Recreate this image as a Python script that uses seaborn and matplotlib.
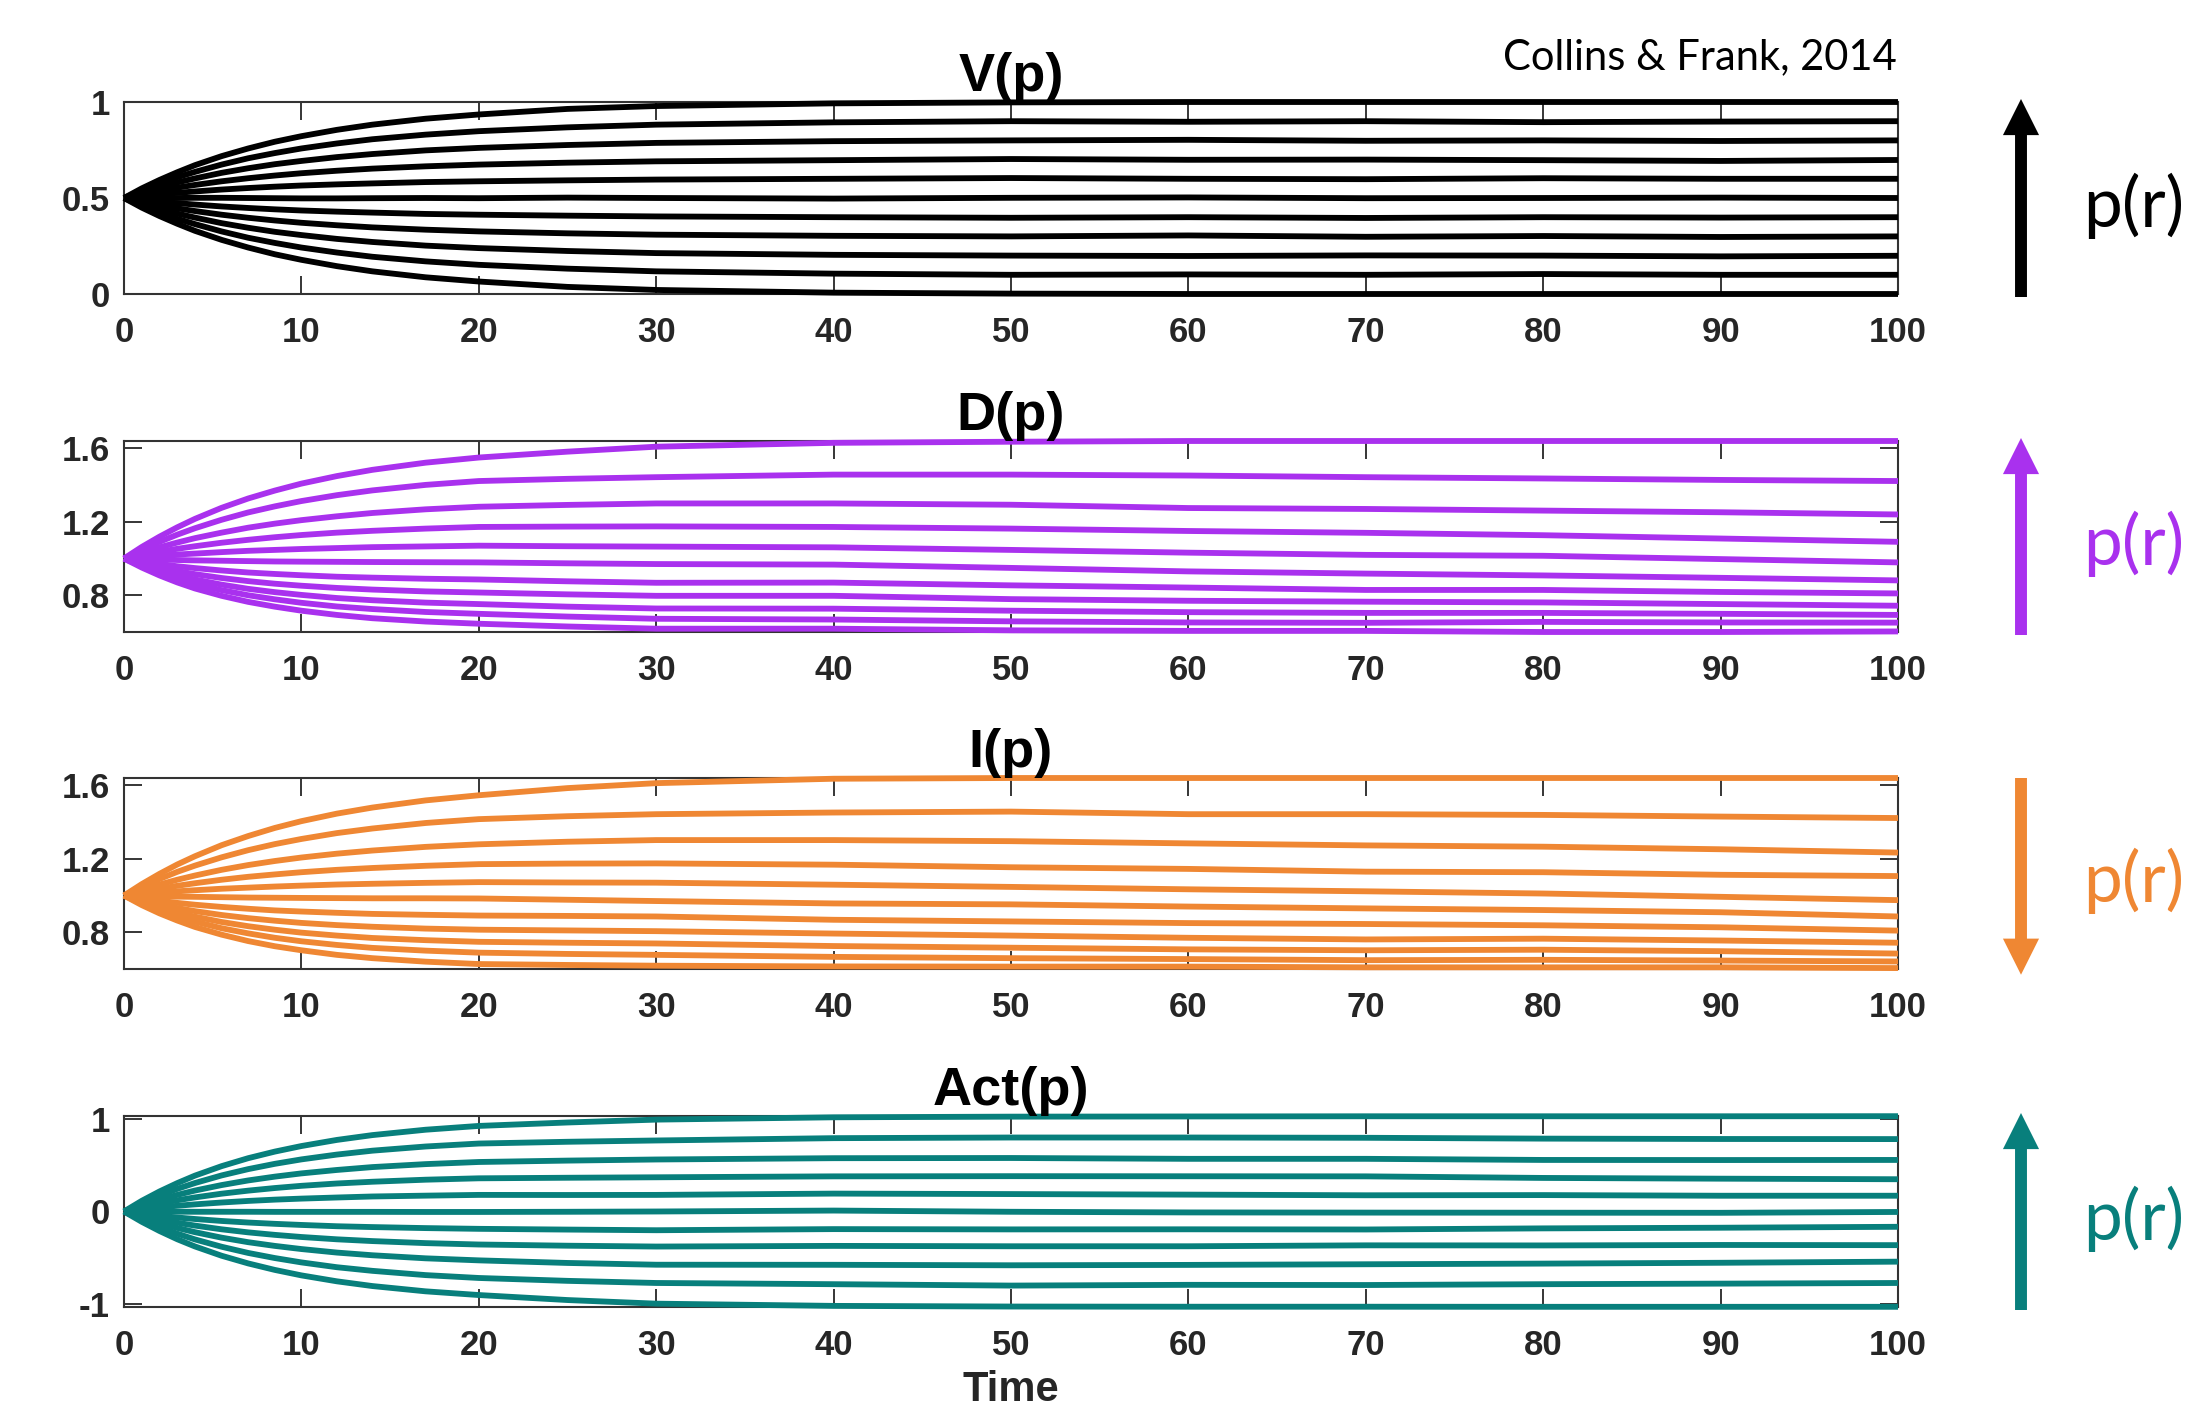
import numpy as np
import pandas as pd
import seaborn as sns
import matplotlib
matplotlib.use("Agg")
import matplotlib.pyplot as plt

# ---------------- data ----------------
time_steps = [0, 1, 2, 3, 4, 5.5, 7, 8.5, 10, 12, 14, 17, 20, 25, 30, 40, 50, 60, 70, 80, 90, 100]
p_levels = [0.0, 0.1, 0.2, 0.3, 0.4, 0.5, 0.6, 0.7, 0.8, 0.9, 1.0]
x_ticks = [0, 10, 20, 30, 40, 50, 60, 70, 80, 90, 100]

v_values = [
    [0.5, 0.45, 0.406, 0.366, 0.329, 0.282, 0.242, 0.207, 0.178, 0.145, 0.118, 0.087, 0.065, 0.037, 0.021, 0.007, 0.002, 0.0, 0.0, 0.0, 0.0, 0.0],
    [0.5, 0.46, 0.425, 0.392, 0.364, 0.326, 0.293, 0.266, 0.242, 0.216, 0.194, 0.17, 0.152, 0.132, 0.118, 0.106, 0.1, 0.102, 0.1, 0.104, 0.1, 0.1],
    [0.5, 0.47, 0.444, 0.419, 0.398, 0.369, 0.345, 0.324, 0.307, 0.287, 0.271, 0.252, 0.239, 0.224, 0.213, 0.204, 0.2, 0.198, 0.201, 0.2, 0.196, 0.199],
    [0.5, 0.48, 0.462, 0.446, 0.432, 0.413, 0.397, 0.383, 0.371, 0.358, 0.347, 0.335, 0.326, 0.316, 0.309, 0.303, 0.3, 0.305, 0.298, 0.302, 0.297, 0.3],
    [0.5, 0.49, 0.481, 0.473, 0.466, 0.456, 0.448, 0.441, 0.435, 0.429, 0.424, 0.417, 0.413, 0.408, 0.404, 0.4, 0.397, 0.4, 0.396, 0.4, 0.398, 0.4],
    [0.5, 0.5, 0.5, 0.5, 0.501, 0.501, 0.5, 0.499, 0.498, 0.498, 0.499, 0.5, 0.499, 0.502, 0.5, 0.497, 0.501, 0.503, 0.499, 0.5, 0.502, 0.5],
    [0.5, 0.51, 0.519, 0.527, 0.534, 0.544, 0.552, 0.559, 0.565, 0.571, 0.576, 0.583, 0.587, 0.592, 0.596, 0.6, 0.604, 0.6, 0.598, 0.603, 0.6, 0.6],
    [0.5, 0.52, 0.538, 0.554, 0.568, 0.587, 0.603, 0.617, 0.629, 0.642, 0.653, 0.665, 0.674, 0.684, 0.691, 0.697, 0.703, 0.699, 0.7, 0.697, 0.693, 0.698],
    [0.5, 0.53, 0.556, 0.581, 0.602, 0.631, 0.655, 0.676, 0.693, 0.713, 0.729, 0.748, 0.761, 0.776, 0.787, 0.796, 0.8, 0.803, 0.798, 0.8, 0.797, 0.8],
    [0.5, 0.54, 0.575, 0.608, 0.636, 0.674, 0.707, 0.734, 0.758, 0.784, 0.806, 0.83, 0.848, 0.868, 0.882, 0.894, 0.9, 0.897, 0.9, 0.895, 0.898, 0.9],
    [0.5, 0.55, 0.594, 0.634, 0.671, 0.718, 0.758, 0.793, 0.822, 0.855, 0.882, 0.913, 0.935, 0.964, 0.979, 0.993, 0.998, 1.0, 1.0, 1.0, 1.0, 1.0],
]

d_values = [
    [1.0, 0.951, 0.908, 0.87, 0.837, 0.797, 0.764, 0.738, 0.716, 0.693, 0.675, 0.657, 0.645, 0.63, 0.618, 0.618, 0.609, 0.606, 0.606, 0.60, 0.60, 0.603],
    [1.0, 0.958, 0.922, 0.89, 0.862, 0.828, 0.8, 0.778, 0.759, 0.739, 0.725, 0.709, 0.699, 0.684, 0.672, 0.668, 0.658, 0.652, 0.65, 0.655, 0.652, 0.651],
    [1.0, 0.966, 0.936, 0.909, 0.886, 0.858, 0.835, 0.817, 0.802, 0.785, 0.773, 0.76, 0.752, 0.738, 0.728, 0.727, 0.716, 0.708, 0.704, 0.704, 0.699, 0.693],
    [1.0, 0.974, 0.952, 0.932, 0.915, 0.894, 0.877, 0.863, 0.852, 0.84, 0.831, 0.821, 0.815, 0.805, 0.797, 0.797, 0.779, 0.77, 0.765, 0.761, 0.752, 0.743],
    [1.0, 0.984, 0.971, 0.958, 0.948, 0.935, 0.924, 0.916, 0.909, 0.901, 0.896, 0.89, 0.886, 0.876, 0.868, 0.869, 0.854, 0.842, 0.829, 0.829, 0.818, 0.81],
    [1.0, 0.997, 0.995, 0.992, 0.99, 0.988, 0.986, 0.984, 0.983, 0.982, 0.981, 0.98, 0.979, 0.974, 0.97, 0.967, 0.949, 0.93, 0.918, 0.908, 0.895, 0.881],
    [1.0, 1.008, 1.015, 1.022, 1.027, 1.035, 1.042, 1.047, 1.052, 1.057, 1.062, 1.066, 1.07, 1.067, 1.065, 1.061, 1.047, 1.032, 1.02, 1.015, 0.997, 0.979],
    [1.0, 1.02, 1.037, 1.053, 1.067, 1.086, 1.102, 1.116, 1.128, 1.141, 1.151, 1.163, 1.172, 1.174, 1.175, 1.172, 1.163, 1.15, 1.14, 1.127, 1.109, 1.091],
    [1.0, 1.032, 1.061, 1.087, 1.111, 1.141, 1.168, 1.19, 1.209, 1.23, 1.248, 1.268, 1.282, 1.292, 1.30, 1.30, 1.293, 1.275, 1.27, 1.261, 1.252, 1.24],
    [1.0, 1.048, 1.091, 1.13, 1.165, 1.211, 1.251, 1.284, 1.313, 1.345, 1.371, 1.401, 1.422, 1.434, 1.443, 1.457, 1.457, 1.452, 1.443, 1.436, 1.428, 1.422],
    [1.0, 1.063, 1.119, 1.17, 1.216, 1.276, 1.327, 1.37, 1.408, 1.449, 1.483, 1.522, 1.55, 1.582, 1.609, 1.63, 1.636, 1.64, 1.64, 1.64, 1.64, 1.64],
]

i_values = [
    [1.0, 1.062, 1.118, 1.169, 1.214, 1.274, 1.324, 1.368, 1.405, 1.446, 1.479, 1.518, 1.546, 1.585, 1.612, 1.636, 1.64, 1.64, 1.64, 1.64, 1.64, 1.64],
    [1.0, 1.047, 1.09, 1.129, 1.163, 1.208, 1.247, 1.28, 1.308, 1.34, 1.365, 1.395, 1.416, 1.432, 1.443, 1.452, 1.457, 1.443, 1.443, 1.439, 1.43, 1.422],
    [1.0, 1.032, 1.06, 1.086, 1.109, 1.14, 1.166, 1.188, 1.207, 1.228, 1.245, 1.265, 1.279, 1.293, 1.302, 1.302, 1.296, 1.284, 1.273, 1.266, 1.252, 1.234],
    [1.0, 1.019, 1.037, 1.053, 1.067, 1.086, 1.102, 1.115, 1.127, 1.14, 1.15, 1.162, 1.171, 1.174, 1.175, 1.168, 1.154, 1.145, 1.13, 1.127, 1.113, 1.106],
    [1.0, 1.008, 1.016, 1.023, 1.029, 1.037, 1.043, 1.049, 1.054, 1.06, 1.064, 1.069, 1.073, 1.071, 1.07, 1.059, 1.047, 1.034, 1.023, 1.011, 0.993, 0.975],
    [1.0, 0.998, 0.996, 0.994, 0.993, 0.991, 0.989, 0.988, 0.987, 0.986, 0.985, 0.985, 0.984, 0.977, 0.97, 0.957, 0.952, 0.94, 0.93, 0.921, 0.909, 0.886],
    [1.0, 0.985, 0.972, 0.96, 0.95, 0.938, 0.928, 0.919, 0.913, 0.906, 0.9, 0.895, 0.891, 0.889, 0.886, 0.868, 0.859, 0.85, 0.845, 0.838, 0.827, 0.809],
    [1.0, 0.974, 0.952, 0.932, 0.915, 0.894, 0.877, 0.863, 0.851, 0.839, 0.83, 0.82, 0.814, 0.81, 0.806, 0.793, 0.782, 0.77, 0.761, 0.765, 0.755, 0.743],
    [1.0, 0.965, 0.935, 0.908, 0.885, 0.856, 0.833, 0.814, 0.798, 0.782, 0.769, 0.757, 0.748, 0.743, 0.739, 0.725, 0.716, 0.707, 0.702, 0.705, 0.697, 0.684],
    [1.0, 0.957, 0.92, 0.886, 0.858, 0.822, 0.794, 0.77, 0.751, 0.731, 0.715, 0.7, 0.689, 0.682, 0.677, 0.666, 0.659, 0.654, 0.648, 0.65, 0.646, 0.641],
    [1.0, 0.948, 0.903, 0.864, 0.829, 0.787, 0.752, 0.724, 0.702, 0.677, 0.659, 0.64, 0.627, 0.622, 0.618, 0.614, 0.613, 0.613, 0.609, 0.609, 0.609, 0.605],
]

act_values = [
    [0.0, -0.111, -0.21, -0.299, -0.377, -0.477, -0.56, -0.63, -0.689, -0.753, -0.804, -0.861, -0.901, -0.955, -0.994, -1.018, -1.025, -1.027, -1.027, -1.028, -1.028, -1.028],
    [0.0, -0.089, -0.168, -0.239, -0.301, -0.38, -0.447, -0.502, -0.549, -0.601, -0.64, -0.686, -0.717, -0.748, -0.771, -0.784, -0.799, -0.791, -0.793, -0.784, -0.778, -0.771],
    [0.0, -0.066, -0.124, -0.177, -0.223, -0.282, -0.331, -0.371, -0.405, -0.443, -0.472, -0.505, -0.527, -0.555, -0.574, -0.575, -0.58, -0.576, -0.569, -0.562, -0.553, -0.541],
    [0.0, -0.045, -0.085, -0.121, -0.152, -0.192, -0.225, -0.252, -0.275, -0.3, -0.319, -0.341, -0.356, -0.369, -0.378, -0.371, -0.375, -0.375, -0.365, -0.366, -0.361, -0.363],
    [0.0, -0.024, -0.045, -0.065, -0.081, -0.102, -0.119, -0.133, -0.145, -0.159, -0.168, -0.179, -0.187, -0.195, -0.202, -0.19, -0.193, -0.192, -0.194, -0.182, -0.175, -0.165],
    [0.0, -0.001, -0.001, -0.002, -0.003, -0.003, -0.003, -0.004, -0.004, -0.004, -0.004, -0.005, -0.005, -0.003, 0.0, 0.01, -0.003, -0.01, -0.012, -0.013, -0.014, -0.005],
    [0.0, 0.023, 0.043, 0.062, 0.077, 0.097, 0.114, 0.128, 0.139, 0.151, 0.162, 0.171, 0.179, 0.178, 0.179, 0.193, 0.188, 0.182, 0.175, 0.177, 0.17, 0.17],
    [0.0, 0.046, 0.085, 0.121, 0.152, 0.192, 0.225, 0.253, 0.277, 0.302, 0.321, 0.343, 0.358, 0.364, 0.369, 0.379, 0.381, 0.38, 0.379, 0.362, 0.354, 0.348],
    [0.0, 0.067, 0.126, 0.179, 0.226, 0.285, 0.335, 0.376, 0.411, 0.448, 0.479, 0.511, 0.534, 0.549, 0.561, 0.575, 0.577, 0.568, 0.568, 0.556, 0.555, 0.556],
    [0.0, 0.091, 0.171, 0.244, 0.307, 0.389, 0.457, 0.514, 0.562, 0.614, 0.656, 0.701, 0.733, 0.752, 0.766, 0.791, 0.798, 0.798, 0.795, 0.786, 0.782, 0.781],
    [0.0, 0.115, 0.216, 0.306, 0.387, 0.489, 0.575, 0.646, 0.706, 0.772, 0.824, 0.882, 0.923, 0.96, 0.991, 1.016, 1.023, 1.025, 1.027, 1.027, 1.027, 1.028],
]

panel_titles = ["V(p)", "D(p)", "I(p)", "Act(p)"]
panel_colors = ["#000000", "#A931EE", "#EF8733", "#087F7C"]
y_ticks = [[0, 0.5, 1], [0.8, 1.2, 1.6], [0.8, 1.2, 1.6], [-1, 0, 1]]
y_ticklabels = [["0", "0.5", "1"], ["0.8", "1.2", "1.6"], ["0.8", "1.2", "1.6"], ["-1", "0", "1"]]
y_limits = [(0, 1), (0.6, 1.64), (0.6, 1.64), (-1.03, 1.03)]
arrow_up = [True, True, False, True]
arrow_label = "p(r)"
credit = "Collins & Frank, 2014"
x_label = "Time"

# ---------------- figure ----------------
sns.set_theme(style="white")
plt.rcParams["font.family"] = ["Liberation Sans", "DejaVu Sans"]
plt.rcParams["axes.unicode_minus"] = False

W, H = 2187, 1406
fig = plt.figure(figsize=(W / 100, H / 100), dpi=100)
fig.patch.set_facecolor("white")

ax_left, ax_right = 124, 1898
ax_tops = [102, 441, 778, 1116]
ax_bottoms = [294, 632, 969, 1307]

all_values = [v_values, d_values, i_values, act_values]
dark = "#262626"

for k in range(4):
    top, bot = ax_tops[k], ax_bottoms[k]
    ax = fig.add_axes([ax_left / W, 1 - bot / H, (ax_right - ax_left) / W, (bot - top) / H])
    vals = all_values[k]
    df = pd.DataFrame({
        "time": np.tile(time_steps, len(p_levels)),
        "value": np.concatenate([np.asarray(v, float) for v in vals]),
        "p": np.repeat(p_levels, len(time_steps)),
    })
    sns.lineplot(data=df, x="time", y="value", units="p", estimator=None,
                 color=panel_colors[k], lw=4.2, ax=ax, legend=False)
    for ln in ax.lines:
        ln.set_clip_on(False)
        ln.set_zorder(3)
        ln.set_solid_capstyle("butt")
        ln.set_solid_joinstyle("round")

    ax.set_xlim(0, 100)
    ax.set_ylim(*y_limits[k])
    ax.set_xticks(x_ticks)
    ax.set_xticklabels([str(t) for t in x_ticks])
    ax.set_yticks(y_ticks[k])
    ax.set_yticklabels(y_ticklabels[k])
    ax.set_xlabel("")
    ax.set_ylabel("")
    ax.tick_params(axis="both", direction="in", length=13, width=1.3, color=dark,
                   bottom=True, top=True, left=True, right=True,
                   labelsize=25, labelcolor=dark)
    ax.tick_params(axis="x", pad=16)
    ax.tick_params(axis="y", pad=10)
    for lab in ax.get_xticklabels() + ax.get_yticklabels():
        lab.set_fontweight("bold")
    for s in ax.spines.values():
        s.set_visible(True)
        s.set_color("#333333")
        s.set_linewidth(1.5)
    ax.set_facecolor("white")
    ax.set_title(panel_titles[k], fontsize=39, fontweight="bold", pad=8, color="black")

    # p(r) arrow
    ax_h = bot - top
    ext = 3 / ax_h
    if arrow_up[k]:
        y_tail, y_tip = -ext, 1 + ext
    else:
        y_tail, y_tip = 1.0, -0.03
    ax_x = (2021 - ax_left) / (ax_right - ax_left)
    ax.annotate("", xy=(ax_x, y_tip), xytext=(ax_x, y_tail),
                xycoords="axes fraction", textcoords="axes fraction",
                arrowprops=dict(arrowstyle="simple,head_length=1.0,head_width=1.0,tail_width=0.33",
                                mutation_scale=26, lw=0, fc=panel_colors[k], ec="none",
                                shrinkA=0, shrinkB=0),
                annotation_clip=False)
    ax.text((2083 - ax_left) / (ax_right - ax_left), 0.46, arrow_label,
            transform=ax.transAxes, fontsize=50, family=["Lato", "DejaVu Sans"],
            color=panel_colors[k], ha="left", va="center", clip_on=False)

fig.text(1897 / W, 1 - 69 / H, credit, ha="right", va="baseline", fontsize=30,
         family=["Lato", "DejaVu Sans"], color="black")
fig.text(((ax_left + ax_right) / 2) / W, 1 - 1401 / H, x_label, ha="center", va="baseline",
         fontsize=30, fontweight="bold", color=dark)

fig.savefig("out.png", dpi=100, facecolor="white")
